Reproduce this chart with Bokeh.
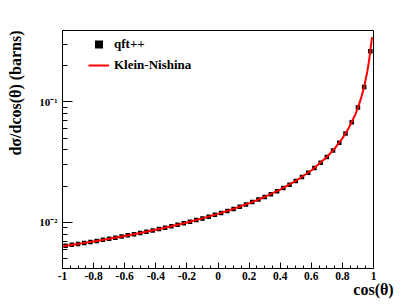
from bokeh.plotting import figure
from bokeh.models import (FixedTicker, CustomJSTickFormatter, Legend, LegendItem,
                          Range1d, Title)
from bokeh.embed import file_html
from bokeh.resources import INLINE

# ---- data ----
cos_pts = [-0.98, -0.94, -0.90, -0.86, -0.82, -0.78, -0.74, -0.70, -0.66, -0.62,
           -0.58, -0.54, -0.50, -0.46, -0.42, -0.38, -0.34, -0.30, -0.26, -0.22,
           -0.18, -0.14, -0.10, -0.06, -0.02, 0.02, 0.06, 0.10, 0.14, 0.18,
           0.22, 0.26, 0.30, 0.34, 0.38, 0.42, 0.46, 0.50, 0.54, 0.58,
           0.62, 0.66, 0.70, 0.74, 0.78, 0.82, 0.86, 0.90, 0.94, 0.98]
sig_pts = [0.006393, 0.006508, 0.006628, 0.006753, 0.006884, 0.007020, 0.007162, 0.007310, 0.007466, 0.007629,
           0.007801, 0.007980, 0.008170, 0.008369, 0.008579, 0.008801, 0.009036, 0.009285, 0.009549, 0.009830,
           0.01013, 0.01045, 0.01079, 0.01116, 0.01155, 0.01198, 0.01244, 0.01294, 0.01349, 0.01408,
           0.01474, 0.01546, 0.01626, 0.01715, 0.01815, 0.01928, 0.02057, 0.02206, 0.02378, 0.02581,
           0.02824, 0.03120, 0.03488, 0.03959, 0.04586, 0.05460, 0.06772, 0.08972, 0.1330, 0.2640]

line_cos = [-1.0, -0.9, -0.8, -0.7, -0.6, -0.5, -0.4, -0.3, -0.2, -0.1, 0.0, 0.1, 0.2,
            0.3, 0.4, 0.5, 0.6, 0.7, 0.75, 0.8, 0.84, 0.88, 0.9, 0.92, 0.94, 0.96,
            0.97, 0.98, 0.985, 0.99]
line_sig = [0.006338, 0.006628, 0.006951, 0.007310, 0.007714, 0.008170, 0.008689, 0.009285,
            0.009978, 0.01079, 0.01176, 0.01294, 0.01440, 0.01626, 0.01870, 0.02206,
            0.02697, 0.03488, 0.04099, 0.04983, 0.06043, 0.07713, 0.08972, 0.1075,
            0.1334, 0.1790, 0.2140, 0.2650, 0.3020, 0.3450]

x_ticks = [-1.0, -0.8, -0.6, -0.4, -0.2, 0.0, 0.2, 0.4, 0.6, 0.8, 1.0]
x_minor = [-0.95, -0.9, -0.85, -0.75, -0.7, -0.65, -0.55, -0.5, -0.45, -0.35, -0.3, -0.25,
           -0.15, -0.1, -0.05, 0.05, 0.1, 0.15, 0.25, 0.3, 0.35, 0.45, 0.5, 0.55,
           0.65, 0.7, 0.75, 0.85, 0.9, 0.95]
y_ticks = [0.01, 0.1]
y_minor = [0.005, 0.006, 0.007, 0.008, 0.009, 0.02, 0.03, 0.04, 0.05, 0.06, 0.07,
           0.08, 0.09, 0.2, 0.3]

Y_MIN, Y_MAX = 0.00414, 0.392
FONT = "Liberation Serif"

p = figure(width=407, height=300, x_range=Range1d(-1, 1), y_range=Range1d(Y_MIN, Y_MAX),
           y_axis_type="log", output_backend="svg", toolbar_location=None,
           min_border_left=62, min_border_right=34, min_border_top=30, min_border_bottom=27)

p.xgrid.visible = False
p.ygrid.visible = False
p.outline_line_color = "black"
p.outline_line_width = 1
p.background_fill_color = "white"
p.border_fill_color = "white"

xa = p.xaxis[0]
xa.ticker = FixedTicker(ticks=x_ticks, minor_ticks=x_minor)
xa.formatter = CustomJSTickFormatter(code="return Number(tick.toFixed(1)).toString();")
xa.major_tick_in = 6
xa.major_tick_out = 0
xa.minor_tick_in = 3
xa.minor_tick_out = 0
xa.major_label_standoff = 3
xa.major_label_text_font = FONT
xa.major_label_text_font_style = "bold"
xa.major_label_text_font_size = "11.5px"
xa.major_label_text_color = "black"
xa.axis_line_color = "black"
xa.axis_label = "cos(\u03b8)"
xa.axis_label_align = "end"
xa.axis_label_standoff = -2
xa.axis_label_text_font = FONT
xa.axis_label_text_font_style = "bold"
xa.axis_label_text_font_size = "16px"
xa.axis_label_text_color = "black"

ya = p.yaxis[0]
ya.ticker = FixedTicker(ticks=y_ticks, minor_ticks=y_minor)
ya.formatter = CustomJSTickFormatter(
    code="return tick < 0.05 ? '10\u207b\u00b2' : '10\u207b\u00b9';")
ya.major_tick_in = 10
ya.major_tick_out = 0
ya.minor_tick_in = 5
ya.minor_tick_out = 0
ya.major_label_standoff = 5
ya.major_label_text_font = FONT
ya.major_label_text_font_style = "bold"
ya.major_label_text_font_size = "11px"
ya.major_label_text_color = "black"
ya.axis_line_color = "black"
# blank spacer label to push the title outward
ya.axis_label = "\u00a0"
ya.axis_label_standoff = 0
ya.axis_label_text_font_size = "6px"

p.add_layout(Title(text="d\u03c3/dcos(\u03b8) (barns)", align="right", text_font=FONT,
                   text_font_style="bold", text_font_size="16px", text_color="black",
                   standoff=8), "left")

r_pts = p.scatter(cos_pts, sig_pts, marker="square", size=4.5, fill_color="black",
                  line_color=None)
r_line = p.line(line_cos, line_sig, line_color="red", line_width=2)

legend = Legend(items=[LegendItem(label="qft++", renderers=[r_pts]),
                       LegendItem(label="Klein-Nishina", renderers=[r_line])],
                location=(26, 193), glyph_width=21, glyph_height=20, label_height=20,
                label_standoff=5, spacing=1, padding=0, margin=0,
                border_line_alpha=0, background_fill_alpha=0,
                label_text_font=FONT, label_text_font_style="bold",
                label_text_font_size="13px", label_text_color="black")
p.add_layout(legend)

open("out.html", "w").write(file_html(p, INLINE))
